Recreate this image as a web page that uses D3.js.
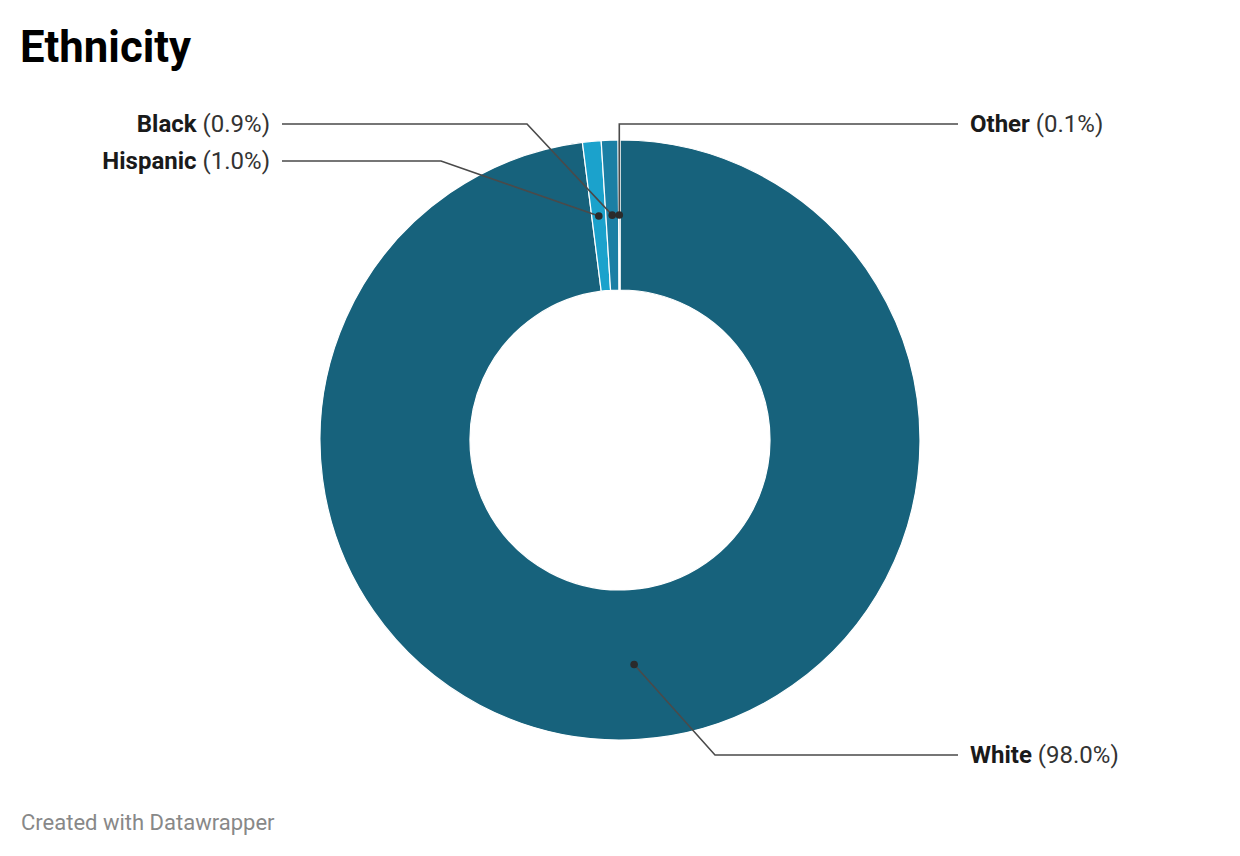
<!DOCTYPE html>
<html><head><meta charset="utf-8">
<script src="https://cdn.jsdelivr.net/npm/d3@7"></script>
<style>
body{margin:0;background:#fff;font-family:Roboto,sans-serif;}
svg{display:block;}
</style></head>
<body>
<svg id="c" width="1240" height="856"></svg>
<script>
const categories = ["White", "Hispanic", "Black", "Other"];
const values = [98.0, 1.0, 0.9, 0.1];
const labels = ["98.0%", "1.0%", "0.9%", "0.1%"];
const colors = ["#17627c", "#1ba2cc", "#1b7fa4", "#17627c"];

// label layout: side, leader y, elbow x
const layout = {
  White:    {side: "right", y: 755, ex: 715},
  Hispanic: {side: "left",  y: 161, ex: 441},
  Black:    {side: "left",  y: 124, ex: 527},
  Other:    {side: "right", y: 124, ex: null}
};

const svg = d3.select("#c");
const cx = 620, cy = 440, R = 300, r = 150;

svg.append("text").attr("x", 20).attr("y", 62)
  .attr("font-size", 43.7).attr("font-weight", 700).attr("fill", "#000")
  .text("Ethnicity");

svg.append("text").attr("x", 21).attr("y", 830)
  .attr("font-size", 22).attr("fill", "#888")
  .text("Created with Datawrapper");

const data = categories.map((c, i) => ({name: c, value: values[i], label: labels[i], color: colors[i]}));
const pie = d3.pie().value(d => d.value).sort(null);
const arcs = pie(data);
const arc = d3.arc().innerRadius(r).outerRadius(R);
const mid = d3.arc().innerRadius((r + R) / 2).outerRadius((r + R) / 2);

const g = svg.append("g").attr("transform", `translate(${cx},${cy})`);
g.selectAll("path").data(arcs).join("path")
  .attr("d", arc).attr("fill", d => d.data.color)
  .attr("stroke", "#fff").attr("stroke-width", 1.2);

const lineLeftEnd = 282, lineRightEnd = 958;
arcs.forEach(a => {
  const [px, py] = mid.centroid(a);
  const x0 = cx + px, y0 = cy + py;
  const L = layout[a.data.name];
  const ex = L.ex === null ? x0 : L.ex;
  const endX = L.side === "left" ? lineLeftEnd : lineRightEnd;
  svg.append("path")
    .attr("d", `M${x0},${y0}L${ex},${L.y}L${endX},${L.y}`)
    .attr("fill", "none").attr("stroke", "#4a4a4a").attr("stroke-width", 1.6);
  svg.append("circle").attr("cx", x0).attr("cy", y0).attr("r", 3.8).attr("fill", "#2b2b2b");
  const t = svg.append("text")
    .attr("x", L.side === "left" ? 270 : 970)
    .attr("y", L.y + 7.5)
    .attr("text-anchor", L.side === "left" ? "end" : "start")
    .attr("font-size", 24).attr("fill", "#1a1a1a");
  t.append("tspan").attr("font-weight", 700).text(a.data.name);
  t.append("tspan").attr("font-weight", 400).attr("fill", "#333").text(" (" + a.data.label + ")");
});
</script>
</body></html>
